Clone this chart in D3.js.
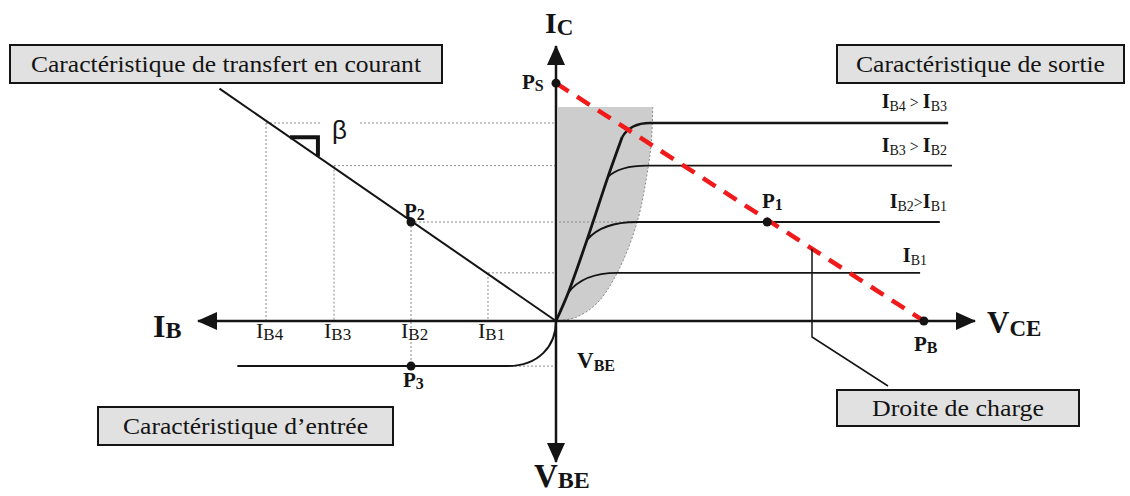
<!DOCTYPE html>
<html>
<head>
<meta charset="utf-8">
<script src="https://cdn.jsdelivr.net/npm/d3@7"></script>
<style>
  body { margin: 0; background: #fff; }
  svg { display: block; font-family: "Liberation Serif", "DejaVu Serif", serif; }
</style>
</head>
<body>
<svg id="chart" width="1130" height="496"></svg>
<script>
// values (diagram units)
var ibValues = [1.9, 4.05, 6.2, 8.1];          // I_B1..I_B4 on the I_B axis
var icValues = [1.75, 3.6, 5.65, 7.2];         // matching collector currents
var ibSubs = ["B1", "B2", "B3", "B4"];
var satStart = [[0.29, 1.02], [0.74, 2.95], [1.24, 5.24], [1.58, 6.69]]; // [VCE, IC] where each curve leaves the saturation line
var kneeVce = [1.46, 1.93, 2.17, 2.24];        // VCE where curve becomes flat
var vceEnd = [8.69, 9.16, 9.45, 9.36];         // right end of each output line
var outLabels = [["B1", ""], ["B2", "B1"], ["B3", "B2"], ["B4", "B3"]];
var shadeTop = 7.78;
var shadeEdge = [[2.31, 7.78], [2.28, 6.6], [2.2, 5.6], [1.93, 3.56], [1.46, 1.75], [0.98, 0.65], [0.5, 0.15], [0.05, 0]];
var loadLine = [[0, 8.65], [8.78, 0]];         // Ps -> Pb
var transferEnd = [9.4, 8.45];                 // [IB, IC]
var betaStep = [7.43, 6.65];                   // IB span of the slope marker
var inputVbe = 1.6;
var inputIb = [8.9, 1.37];                     // flat part of input curve
var p1Vce = 5.04;
var chargeVce = 6.11;

var svg = d3.select("#chart");

var xR = d3.scaleLinear().domain([0, 10]).range([556, 975]); // VCE
var xL = d3.scaleLinear().domain([0, 10]).range([556, 198]); // IB
var yU = d3.scaleLinear().domain([0, 10]).range([321, 46]);  // IC
var yD = d3.scaleLinear().domain([0, 5]).range([321, 462]);  // VBE

var ink = "#141414";

var defs = svg.append("defs");
defs.append("marker")
    .attr("id", "arrow")
    .attr("viewBox", "0 0 20 18")
    .attr("refX", 19).attr("refY", 9)
    .attr("markerWidth", 20).attr("markerHeight", 18)
    .attr("markerUnits", "userSpaceOnUse")
    .attr("orient", "auto")
    .append("path")
    .attr("d", "M0,0 L20,9 L0,18 Z")
    .style("fill", ink);

// shaded saturation region
var edgeLine = d3.line()
    .x(function (d) { return xR(d[0]); })
    .y(function (d) { return yU(d[1]); })
    .curve(d3.curveCatmullRom);
var edgePath = edgeLine(shadeEdge);
svg.append("path")
    .attr("d", "M" + xR(0.05) + "," + yU(shadeTop) + "L" + edgePath.substring(1) + "Z")
    .style("fill", "#cdcdcd");
svg.append("path")
    .attr("d", edgePath)
    .style("fill", "none").style("stroke", "#8a8a8a")
    .style("stroke-width", 1).style("stroke-dasharray", "2,2");

// dotted guides
var guides = svg.append("g")
    .style("stroke", "#8a8a8a").style("stroke-width", 1).style("stroke-dasharray", "2,2").style("fill", "none");
ibValues.forEach(function (ib, i) {
    var hx2 = i == 1 ? xR(kneeVce[1]) : xR(0);
    if (i == 3) {
        guides.append("line").attr("x1", xL(ib)).attr("x2", 322).attr("y1", yU(icValues[i])).attr("y2", yU(icValues[i]));
        guides.append("line").attr("x1", 360).attr("x2", hx2).attr("y1", yU(icValues[i])).attr("y2", yU(icValues[i]));
    } else {
        guides.append("line").attr("x1", xL(ib)).attr("x2", hx2).attr("y1", yU(icValues[i])).attr("y2", yU(icValues[i]));
    }
    var vy2 = i == 1 ? yD(inputVbe) : yU(0);
    guides.append("line").attr("x1", xL(ib)).attr("x2", xL(ib)).attr("y1", yU(icValues[i])).attr("y2", vy2);
});
guides.append("line")
    .attr("x1", xL(inputIb[1])).attr("x2", xL(0))
    .attr("y1", yD(inputVbe)).attr("y2", yD(inputVbe));

// axes
var axes = svg.append("g").style("stroke", ink).style("stroke-width", 2.5);
axes.append("line").attr("x1", xR(0)).attr("y1", yU(0)).attr("x2", xR(10)).attr("y2", yU(0)).attr("marker-end", "url(#arrow)");
axes.append("line").attr("x1", xL(0)).attr("y1", yU(0)).attr("x2", xL(10)).attr("y2", yU(0)).attr("marker-end", "url(#arrow)");
axes.append("line").attr("x1", xR(0)).attr("y1", yU(0)).attr("x2", xR(0)).attr("y2", yU(10)).attr("marker-end", "url(#arrow)");
axes.append("line").attr("x1", xR(0)).attr("y1", yU(0)).attr("x2", xR(0)).attr("y2", yD(5)).attr("marker-end", "url(#arrow)");

// output characteristics
var curves = svg.append("g").style("fill", "none").style("stroke", ink).style("stroke-width", 2);
var satPts = [[0, 0]].concat(satStart);
curves.append("path")
    .attr("d", edgeLine(satPts))
    .style("stroke-width", 2.8);
satStart.forEach(function (s, i) {
    var k = [kneeVce[i], icValues[i]];
    var c = [s[0] + 0.3 * (k[0] - s[0]), k[1]];
    curves.append("path")
        .attr("d", "M" + xR(s[0]) + "," + yU(s[1]) +
            "Q" + xR(c[0]) + "," + yU(c[1]) + " " + xR(k[0]) + "," + yU(k[1]) +
            "L" + xR(vceEnd[i]) + "," + yU(k[1]))
        .style("stroke-width", i == 3 ? 2.4 : 1.9);
});

// transfer characteristic
svg.append("line")
    .attr("x1", xL(0)).attr("y1", yU(0))
    .attr("x2", xL(transferEnd[0])).attr("y2", yU(transferEnd[1]))
    .style("stroke", ink).style("stroke-width", 2);
var slope = transferEnd[1] / transferEnd[0];
svg.append("path")
    .attr("d", "M" + xL(betaStep[0]) + "," + yU(betaStep[0] * slope) +
        "L" + xL(betaStep[1]) + "," + yU(betaStep[0] * slope) +
        "L" + xL(betaStep[1]) + "," + yU(betaStep[1] * slope))
    .style("fill", "none").style("stroke", ink).style("stroke-width", 4);
svg.append("text")
    .attr("x", 332).attr("y", 139)
    .style("font-family", "'Liberation Sans', Arial, sans-serif")
    .style("font-size", "26px").style("fill", ink)
    .text("β");

// input characteristic
svg.append("path")
    .attr("d", "M" + xL(inputIb[0]) + "," + yD(inputVbe) +
        "L" + xL(inputIb[1]) + "," + yD(inputVbe) +
        "C" + xL(inputIb[1] * 0.35) + "," + yD(inputVbe) + " " +
        xL(0) + "," + yD(inputVbe * 0.55) + " " + xL(0) + "," + yD(0))
    .style("fill", "none").style("stroke", ink).style("stroke-width", 2);

// load line
svg.append("line")
    .attr("x1", xR(loadLine[0][0])).attr("y1", yU(loadLine[0][1]))
    .attr("x2", xR(loadLine[1][0])).attr("y2", yU(loadLine[1][1]))
    .style("stroke", "#f01a1a").style("stroke-width", 4.5).style("stroke-dasharray", "15,10");

// "Droite de charge" leader
var chargeIc = loadLine[0][1] * (1 - chargeVce / loadLine[1][0]);
svg.append("path")
    .attr("d", "M" + xR(chargeVce) + "," + yU(chargeIc) + "L" + xR(chargeVce) + ",337 L888,386")
    .style("fill", "none").style("stroke", ink).style("stroke-width", 1.5);

// points
var p1Ic = icValues[1];
var pts = [
    [xR(0), yU(loadLine[0][1])],
    [xR(loadLine[1][0]), yU(loadLine[1][1])],
    [xR(p1Vce), yU(p1Ic)],
    [xL(ibValues[1]), yU(icValues[1])],
    [xL(ibValues[1]), yD(inputVbe)]
];
svg.append("g").selectAll("circle").data(pts).enter()
    .append("circle")
    .attr("cx", function (d) { return d[0]; })
    .attr("cy", function (d) { return d[1]; })
    .attr("r", 4.5)
    .style("fill", ink);

// text helper : base letter with subscript
function label(x, y, base, sub, size, subSize, dy, bold) {
    var t = svg.append("text")
        .attr("x", x).attr("y", y)
        .style("font-size", size + "px")
        .style("font-weight", bold ? "bold" : "normal")
        .style("fill", ink);
    t.append("tspan").text(base);
    t.append("tspan").attr("dy", dy).style("font-size", subSize + "px").text(sub);
    return t;
}

label(545, 33, "I", "C", 30, 23, 2, true);
label(153, 337, "I", "B", 32, 24, 1, true);
label(987, 333, "V", "CE", 31, 23, 3, true);
label(534, 487, "V", "BE", 33, 24, 1, true);
label(577, 368, "V", "BE", 23, 16, 3, true);

label(522, 89, "P", "S", 21, 16, 2, true);
label(914, 351, "P", "B", 21, 16, 2, true);
label(762, 208, "P", "1", 21, 16, 2, true);
label(404, 218, "P", "2", 21, 16, 2, true);
label(403, 387, "P", "3", 21, 16, 2, true);

ibValues.forEach(function (ib, i) {
    label(xL(ib) - 10, 338, "I", ibSubs[i], 22, 17, 2, false);
});

// output line labels
var outBase = [262, 208, 152, 108];
outLabels.forEach(function (d, i) {
    var t = svg.append("text")
        .attr("x", i == 0 ? 927 : 947).attr("y", outBase[i])
        .attr("text-anchor", "end")
        .style("font-size", "20px").style("font-weight", "bold").style("fill", ink);
    t.append("tspan").text("I");
    t.append("tspan").attr("dy", 3).style("font-size", "14px").style("font-weight", "normal").text(d[0]);
    if (d[1] != "") {
        t.append("tspan").attr("dy", -3).style("font-size", "16px").style("font-weight", "normal").text(i == 1 ? ">" : " > ");
        t.append("tspan").text("I");
        t.append("tspan").attr("dy", 3).style("font-size", "14px").style("font-weight", "normal").text(d[1]);
    }
});

// boxed titles
var boxes = [
    { x: 10, y: 45, w: 432, h: 38, text: "Caractéristique de transfert en courant", len: 390 },
    { x: 837, y: 45, w: 287, h: 38, text: "Caractéristique de sortie", len: 249 },
    { x: 98, y: 407, w: 295, h: 38, text: "Caractéristique d\u2019entrée", len: 245 },
    { x: 837, y: 390, w: 242, h: 36, text: "Droite de charge", len: 172 }
];
var bx = svg.append("g").selectAll("g").data(boxes).enter().append("g");
bx.append("rect")
    .attr("x", function (d) { return d.x; })
    .attr("y", function (d) { return d.y; })
    .attr("width", function (d) { return d.w; })
    .attr("height", function (d) { return d.h; })
    .style("fill", "#e1e1e1").style("stroke", ink).style("stroke-width", 2);
bx.append("text")
    .attr("x", function (d) { return d.x + d.w / 2; })
    .attr("y", function (d) { return d.y + d.h / 2 + 8; })
    .attr("text-anchor", "middle")
    .attr("textLength", function (d) { return d.len; })
    .attr("lengthAdjust", "spacingAndGlyphs")
    .style("font-size", "23px").style("fill", ink)
    .text(function (d) { return d.text; });
</script>
</body>
</html>
